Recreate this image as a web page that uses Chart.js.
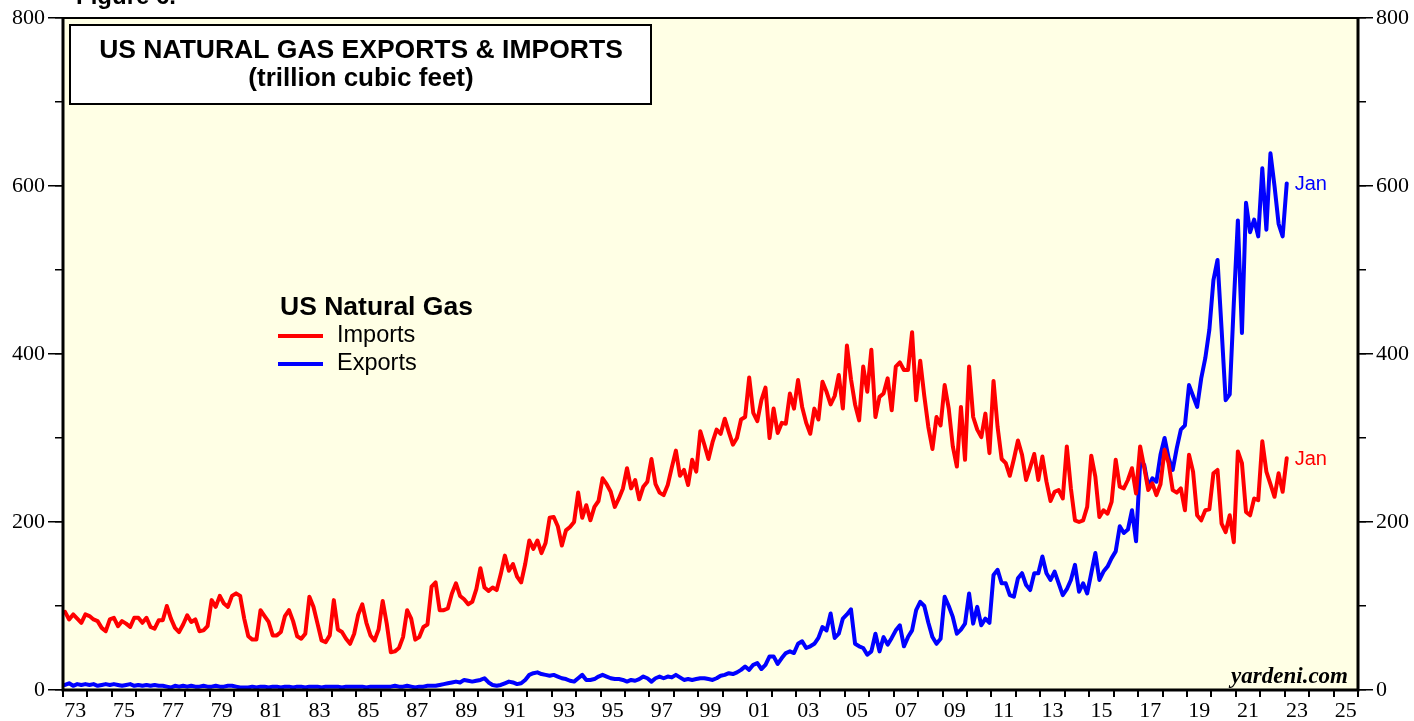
<!DOCTYPE html>
<html>
<head>
<meta charset="utf-8">
<script src="https://cdn.jsdelivr.net/npm/chart.js@4/dist/chart.umd.min.js"></script>
<style>
  html, body { margin: 0; padding: 0; background: #fff; }
  #wrap { width: 1414px; height: 721px; }
</style>
</head>
<body>
<div id="wrap"><canvas id="chartGas" width="1414" height="721"></canvas></div>
<script>
const startYear = 1973;
const pointsPerYear = 6;

const imports1970s = [
  93, 84, 90, 85, 80, 90,   88, 84, 82, 74, 70, 84,   86, 76, 82, 79, 75, 86,
  86, 80, 86, 75, 73, 83,   83, 100, 85, 74, 69, 78,  89, 81, 84, 70, 71, 76,
  107, 99, 112, 103, 99, 112
];
const imports1980s = [
  115, 112, 85, 64, 60, 60, 95, 88, 81, 65, 65, 69,   88, 95, 82, 64, 61, 67,
  111, 99, 79, 59, 57, 65,  107, 72, 69, 61, 55, 67,  90, 102, 80, 65, 59, 72,
  106, 79, 45, 46, 50, 63,  95, 85, 60, 63, 75, 78,   123, 128, 95, 95, 97, 115,
  127, 112, 108, 102, 105, 120
];
const imports1990s = [
  145, 122, 118, 122, 119, 138, 160, 142, 150, 135, 128, 150, 178, 168, 178, 163, 175, 205,
  206, 195, 172, 190, 194, 200, 235, 205, 220, 202, 218, 225, 252, 245, 236, 218, 228, 240,
  264, 240, 250, 227, 242, 248, 275, 245, 235, 232, 244, 265, 285, 255, 262, 244, 274, 260,
  308, 292, 275, 295, 310, 305
];
const imports2000s = [
  323, 307, 292, 300, 322, 325, 372, 330, 320, 345, 360, 300, 335, 306, 318, 317, 353, 335,
  369, 337, 318, 305, 335, 322, 367, 355, 340, 350, 375, 335, 410, 370, 340, 321, 385, 355,
  405, 325, 349, 353, 371, 333, 385, 390, 381, 381, 426, 345, 392, 350, 313, 287, 325, 315,
  363, 335, 290, 266, 337, 274
];
const imports2010s = [
  385, 325, 310, 301, 329, 282, 368, 313, 275, 270, 255, 275, 297, 280, 250, 265, 281, 250,
  278, 248, 225, 236, 238, 228, 290, 240, 202, 200, 202, 218, 279, 254, 206, 214, 210, 224,
  274, 242, 240, 250, 264, 234, 290, 265, 238, 246, 232, 245, 286, 270, 238, 235, 240, 214,
  280, 260, 208, 202, 214, 215
];
const imports2020s = [
  258, 262, 198, 188, 208, 176, 284, 270, 212, 208, 228, 226, 296, 260, 245, 230, 258, 236,
  276
];

const exports1970s = [
  6, 8, 5, 7, 6, 7,  6, 7, 5, 6, 7, 6,  7, 6, 5, 6, 7, 5,  6, 5, 6, 5, 6, 5,
  5, 4, 3, 5, 4, 5,  4, 5, 4, 4, 5, 4,  4, 5, 4, 4, 5, 5
];
const exports1980s = [
  4, 3, 3, 3, 4, 3,  4, 4, 3, 4, 4, 3,  4, 4, 3, 4, 4, 3,  4, 4, 4, 3, 4, 4,
  4, 4, 3, 4, 4, 4,  4, 4, 3, 4, 4, 4,  4, 4, 4, 5, 4, 4,  5, 4, 3, 4, 4, 5,
  5, 5, 6, 7, 8, 9,  10, 9, 12, 11, 10, 11
];
const exports1990s = [
  12, 14, 9, 6, 5, 6,  8, 10, 9, 7, 8, 12,  18, 20, 21, 19, 18, 17,
  18, 16, 14, 13, 11, 10,  14, 18, 12, 12, 13, 16,  18, 16, 14, 13, 13, 12,
  10, 12, 11, 13, 16, 14,  10, 14, 16, 14, 16, 15,  18, 15, 12, 13, 12, 13,
  14, 14, 13, 12, 14, 17
];
const exports2000s = [
  18, 20, 19, 21, 24, 28,  24, 30, 32, 25, 30, 40,  40, 31, 38, 44, 46, 44,
  55, 58, 50, 52, 55, 62,  75, 71, 91, 62, 67, 85,  90, 96, 55, 52, 50, 42,
  46, 67, 46, 63, 54, 62,  71, 77, 52, 63, 71, 95,  105, 100, 80, 63, 55, 61,
  111, 100, 87, 67, 72, 79
];
const exports2010s = [
  115, 79, 99, 77, 85, 80,  137, 143, 127, 127, 113, 111,  133, 139, 125, 119, 139, 139,
  159, 139, 131, 141, 127, 113,  120, 131, 149, 117, 127, 115,  139, 163, 131, 141, 147, 157,
  165, 195, 187, 191, 214, 177,  270, 268, 242, 252, 248, 280,  300, 276, 262, 288, 310, 315,
  363, 350, 337, 371, 395, 429
];
const exports2020s = [
  488, 512, 430, 345, 352, 460,  559, 425, 580, 545, 560, 540,  621, 548, 639, 600, 555, 540,
  603
];

// axes
const yearTicks = [];
for (let y = 1973; y <= 2026; y++) yearTicks.push(y);
const xLabels = ['73', '75', '77', '79', '81', '83', '85', '87', '89', '91', '93', '95', '97',
                 '99', '01', '03', '05', '07', '09', '11', '13', '15', '17', '19', '21', '23', '25'];
const yTickValues = [0, 200, 400, 600, 800];

const imports = [].concat(imports1970s, imports1980s, imports1990s, imports2000s, imports2010s, imports2020s);
const exportsGas = [].concat(exports1970s, exports1980s, exports1990s, exports2000s, exports2010s, exports2020s);

const aPuntos = vals => vals.map((v, i) => ({ x: startYear + (i + 0.5) / pointsPerYear, y: v }));

const sans = "'Liberation Sans', Arial, Helvetica, sans-serif";
const serif = "'Liberation Serif', 'Times New Roman', Times, serif";

const fondoYMarco = {
  id: 'fondoYMarco',
  beforeDraw(chart) {
    const { ctx, chartArea: a } = chart;
    ctx.save();
    ctx.fillStyle = '#ffffff';
    ctx.fillRect(0, 0, chart.width, chart.height);
    ctx.fillStyle = '#ffffe5';
    ctx.fillRect(a.left, a.top, a.right - a.left, a.bottom - a.top);
    ctx.restore();
  },
  afterDraw(chart) {
    const { ctx, chartArea: a } = chart;
    ctx.save();
    ctx.strokeStyle = '#000';
    ctx.lineWidth = 2;
    ctx.beginPath();
    ctx.moveTo(a.left, a.top);
    ctx.lineTo(a.right, a.top);
    ctx.stroke();
    ctx.lineWidth = 3;
    ctx.beginPath();
    ctx.moveTo(a.left, a.top - 1);
    ctx.lineTo(a.left, a.bottom);
    ctx.lineTo(a.right, a.bottom);
    ctx.lineTo(a.right, a.top - 1);
    ctx.stroke();

    // title box
    ctx.fillStyle = '#fff';
    ctx.fillRect(70, 25, 581, 79);
    ctx.lineWidth = 2;
    ctx.strokeRect(70, 25, 581, 79);
    ctx.fillStyle = '#000';
    ctx.textAlign = 'center';
    ctx.textBaseline = 'middle';
    ctx.font = 'bold 26.5px ' + sans;
    ctx.fillText('US NATURAL GAS EXPORTS & IMPORTS', 361, 51);
    ctx.font = 'bold 26px ' + sans;
    ctx.fillText('(trillion cubic feet)', 361, 79);

    // figure caption, cut by the top edge
    ctx.textAlign = 'left';
    ctx.textBaseline = 'alphabetic';
    ctx.font = 'bold 24px ' + sans;
    ctx.fillText('Figure 6.', 76, 4);

    // legend
    ctx.font = 'bold 26.5px ' + sans;
    ctx.textBaseline = 'middle';
    ctx.fillText('US Natural Gas', 280, 308);
    ctx.font = '23.5px ' + sans;
    chart.data.datasets.forEach((ds, i) => {
      const yy = 336 + i * 28;
      ctx.strokeStyle = ds.borderColor;
      ctx.lineWidth = 4;
      ctx.beginPath();
      ctx.moveTo(278, yy);
      ctx.lineTo(323, yy);
      ctx.stroke();
      ctx.fillStyle = '#000';
      ctx.fillText(ds.label, 337, yy);
    });

    // "Jan" tags at the last point of each series
    ctx.font = '20px ' + sans;
    chart.data.datasets.forEach((ds, i) => {
      const meta = chart.getDatasetMeta(i);
      const last = meta.data[meta.data.length - 1];
      ctx.fillStyle = ds.borderColor;
      ctx.fillText('Jan', last.x + 8, last.y + 1);
    });

    // source
    ctx.fillStyle = '#000';
    ctx.textAlign = 'right';
    ctx.textBaseline = 'alphabetic';
    ctx.font = 'italic bold 23px ' + serif;
    ctx.fillText('yardeni.com', a.right - 10, a.bottom - 7);
    ctx.restore();
  }
};

const ejeY = (pos, peso, ancho, etiquetas) => ({
  type: 'linear', position: pos, min: 0, max: 800, weight: peso,
  afterBuildTicks: s => { s.ticks = yTickValues.map(v => ({ value: v })); },
  afterFit: s => { s.width = ancho; },
  ticks: { display: etiquetas, padding: 3, color: '#000', font: { family: serif, size: 22 } },
  grid: { drawOnChartArea: false, drawTicks: true, tickLength: 15, color: '#000', lineWidth: 1.5 },
  border: { display: false }
});
const ejeYMenor = (pos) => ({
  type: 'linear', position: pos, min: 0, max: 800, weight: 0,
  ticks: { display: false, stepSize: 100 },
  afterFit: s => { s.width = 0; },
  grid: { drawOnChartArea: false, drawTicks: true, tickLength: 8, color: '#000', lineWidth: 1.5 },
  border: { display: false }
});

const chartGas = new Chart(document.getElementById('chartGas').getContext('2d'), {
  type: 'line',
  data: {
    datasets: [
      { label: 'Imports', data: aPuntos(imports), borderColor: '#ff0000', borderWidth: 4,
        borderJoinStyle: 'round', borderCapStyle: 'round', pointRadius: 0, tension: 0, fill: false },
      { label: 'Exports', data: aPuntos(exportsGas), borderColor: '#0000ff', borderWidth: 4,
        borderJoinStyle: 'round', borderCapStyle: 'round', pointRadius: 0, tension: 0, fill: false }
    ]
  },
  options: {
    responsive: false,
    animation: false,
    layout: { padding: { top: 18, left: 0, right: 0, bottom: 0 } },
    plugins: { legend: { display: false }, tooltip: { enabled: false } },
    scales: {
      x: {
        type: 'linear', position: 'bottom', min: 1973, max: 2026, weight: 1,
        afterBuildTicks: s => { s.ticks = yearTicks.map(v => ({ value: v })); },
        afterFit: s => { s.height = 8; },
        ticks: { display: false },
        grid: { drawOnChartArea: false, drawTicks: true, tickLength: 7, color: '#000', lineWidth: 2 },
        border: { display: false }
      },
      xEtiquetas: {
        type: 'linear', position: 'bottom', min: 1973, max: 2026, weight: 2,
        afterBuildTicks: s => { s.ticks = xLabels.map((t, i) => ({ value: 1973.5 + i * 2 })); },
        afterFit: s => { s.height = 23; },
        ticks: {
          autoSkip: false, maxRotation: 0, padding: 0, color: '#000',
          font: { family: serif, size: 22 },
          callback: (v, i) => xLabels[i]
        },
        grid: { display: false, drawTicks: false },
        border: { display: false }
      },
      yMenor: ejeYMenor('left'),
      y: ejeY('left', 1, 63, true),
      y2Menor: ejeYMenor('right'),
      y2: ejeY('right', 1, 56, true)
    }
  },
  plugins: [fondoYMarco]
});
</script>
</body>
</html>
